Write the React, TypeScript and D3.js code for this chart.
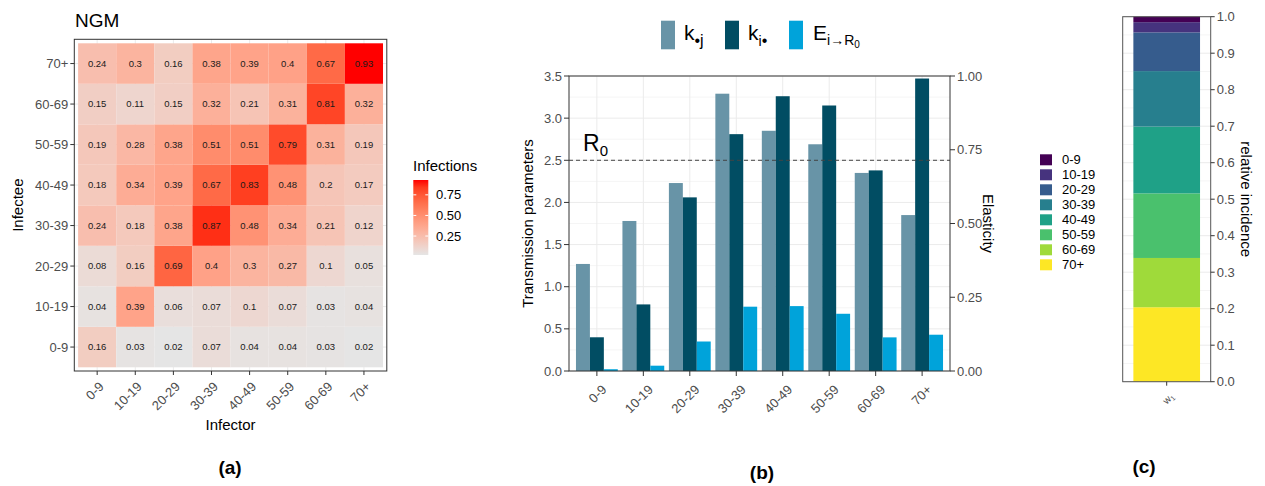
import React from 'react';
import * as d3 from 'd3';

const ageGroups = ['0-9', '10-19', '20-29', '30-39', '40-49', '50-59', '60-69', '70+'];

// NGM rows: infectee (0-9 .. 70+), columns: infector (0-9 .. 70+)
const ngm0_9 = [0.16, 0.03, 0.02, 0.07, 0.04, 0.04, 0.03, 0.02];
const ngm10_19 = [0.04, 0.39, 0.06, 0.07, 0.1, 0.07, 0.03, 0.04];
const ngm20_29 = [0.08, 0.16, 0.69, 0.4, 0.3, 0.27, 0.1, 0.05];
const ngm30_39 = [0.24, 0.18, 0.38, 0.87, 0.48, 0.34, 0.21, 0.12];
const ngm40_49 = [0.18, 0.34, 0.39, 0.67, 0.83, 0.48, 0.2, 0.17];
const ngm50_59 = [0.19, 0.28, 0.38, 0.51, 0.51, 0.79, 0.31, 0.19];
const ngm60_69 = [0.15, 0.11, 0.15, 0.32, 0.21, 0.31, 0.81, 0.32];
const ngm70p = [0.24, 0.3, 0.16, 0.38, 0.39, 0.4, 0.67, 0.93];
const ngmRows = [ngm0_9, ngm10_19, ngm20_29, ngm30_39, ngm40_49, ngm50_59, ngm60_69, ngm70p];
const legendTicksA = [0.25, 0.5, 0.75];

// panel (b)
const kDotJ = [1.27, 1.78, 2.23, 3.29, 2.85, 2.69, 2.35, 1.85];
const kIDot = [0.4, 0.79, 2.06, 2.81, 3.26, 3.15, 2.38, 3.47];
const elasticity = [0.006, 0.018, 0.1, 0.218, 0.22, 0.194, 0.114, 0.123];
const R0 = 2.5;
const ticksB = [0, 0.5, 1, 1.5, 2, 2.5, 3, 3.5];
const ticksE = [0, 0.25, 0.5, 0.75, 1];

// panel (c)
const incidence = [0.015, 0.028, 0.106, 0.152, 0.183, 0.177, 0.135, 0.204];
const viridis8 = ['#440154', '#46337E', '#365C8D', '#277F8E', '#1FA187', '#4AC16D', '#9FDA3A', '#FDE725'];
const ticksC = [0, 0.1, 0.2, 0.3, 0.4, 0.5, 0.6, 0.7, 0.8, 0.9, 1.0];

const FONT = '"Liberation Sans", Arial, Helvetica, sans-serif';
const TICK = '#4D4D4D';
const GRID = '#EBEBEB';
const GRIDMINOR = '#F5F5F5';
const colK1 = '#6894A7';
const colK2 = '#014D63';
const colE = '#00A3DA';

export default function App() {
  // ---------- Panel (a) ----------
  const pA = { l: 74.3, r: 386.8, t: 39.3, b: 371 };
  const xA = d3.scaleBand().domain(ageGroups).range([78.1, 383]);
  const yA = d3.scaleBand().domain(ageGroups).range([367.3, 43.3]);
  const allVals = ngmRows.flat();
  const fillA = d3
    .scaleLinear<string>()
    .domain([d3.min(allVals)!, d3.max(allVals)!])
    .range(['#E5E5E5', '#FF0000'])
    .interpolate(d3.interpolateLab);
  const legA = d3.scaleLinear().domain([d3.min(allVals)!, d3.max(allVals)!]).range([255, 180]);
  const gradStops = d3.range(0, 1.0001, 0.1);

  // ---------- Panel (b) ----------
  const pB = { l: 569, r: 950, t: 76, b: 371 };
  const xB = d3.scaleBand().domain(ageGroups).range([pB.l, pB.r]).paddingInner(0.1).paddingOuter(0.15);
  const series = ['kdotj', 'kidot', 'E'];
  const xInner = d3.scaleBand().domain(series).range([0, xB.bandwidth()]);
  const yB = d3.scaleLinear().domain([0, 3.5]).range([pB.b, pB.t]);
  const yE = d3.scaleLinear().domain([0, 1]).range([pB.b, pB.t]);
  const minorB = d3.range(0.25, 3.5, 0.5);

  // ---------- Panel (c) ----------
  const pC = { l: 1122.7, r: 1210.7, t: 16.7, b: 381.7 };
  const xC = d3.scaleBand().domain(['w1']).range([pC.l, pC.r]).paddingInner(0).paddingOuter(0.16);
  const yC = d3.scaleLinear().domain([0, 1]).range([pC.b, pC.t]);
  const order = d3.range(ageGroups.length).reverse(); // 70+ at bottom
  const cum: { i: number; y0: number; y1: number }[] = [];
  let acc = 0;
  order.forEach((i) => {
    cum.push({ i, y0: acc, y1: acc + incidence[i] });
    acc += incidence[i];
  });
  const minorC = d3.range(0.05, 1, 0.1);

  return (
    <svg
      width={1265}
      height={486}
      style={{ position: 'absolute', left: 0, top: 0, background: '#fff' }}
      fontFamily={FONT}
    >
      <rect x={0} y={0} width={1265} height={486} fill="#fff" />
      {/* ================= Panel (a) ================= */}
      <text x={75} y={26.7} fontSize={19} fill="#000">NGM</text>
      <rect x={pA.l} y={pA.t} width={pA.r - pA.l} height={pA.b - pA.t} fill="#fff" />
      {ageGroups.map((g) => (
        <g key={'ga' + g}>
          <line x1={xA(g)! + xA.bandwidth() / 2} x2={xA(g)! + xA.bandwidth() / 2} y1={pA.t} y2={pA.b} stroke={GRID} />
          <line x1={pA.l} x2={pA.r} y1={yA(g)! + yA.bandwidth() / 2} y2={yA(g)! + yA.bandwidth() / 2} stroke={GRID} />
        </g>
      ))}
      {ngmRows.map((row, ri) =>
        row.map((v, ci) => (
          <g key={`c${ri}-${ci}`}>
            <rect
              x={xA(ageGroups[ci])!}
              y={yA(ageGroups[ri])!}
              width={xA.bandwidth()}
              height={yA.bandwidth()}
              fill={fillA(v)}
            />
            <text
              x={xA(ageGroups[ci])! + xA.bandwidth() / 2}
              y={yA(ageGroups[ri])! + yA.bandwidth() / 2}
              dy="0.35em"
              textAnchor="middle"
              fontSize={9.5}
              fill="#1a1a1a"
            >
              {String(v)}
            </text>
          </g>
        ))
      )}
      <rect x={pA.l} y={pA.t} width={pA.r - pA.l} height={pA.b - pA.t} fill="none" stroke="#333" strokeWidth={1} />
      {ageGroups.map((g) => {
        const cy = yA(g)! + yA.bandwidth() / 2;
        const cx = xA(g)! + xA.bandwidth() / 2;
        return (
          <g key={'ta' + g}>
            <line x1={pA.l - 4} x2={pA.l} y1={cy} y2={cy} stroke="#333" />
            <text x={pA.l - 6} y={cy} dy="0.35em" textAnchor="end" fontSize={13} fill={TICK}>{g}</text>
            <line x1={cx} x2={cx} y1={pA.b} y2={pA.b + 4} stroke="#333" />
            <text
              transform={`translate(${cx + 1},${381}) rotate(-45)`}
              dy="0.7em"
              textAnchor="end"
              fontSize={13}
              fill={TICK}
            >
              {g}
            </text>
          </g>
        );
      })}
      <text x={(pA.l + pA.r) / 2} y={430} textAnchor="middle" fontSize={15} fill="#000">Infector</text>
      <text transform={`translate(${23},${(pA.t + pA.b) / 2}) rotate(-90)`} textAnchor="middle" fontSize={15} fill="#000">Infectee</text>
      {/* legend (a) */}
      <text x={413} y={171} fontSize={15} fill="#000">Infections</text>
      <defs>
        <linearGradient id="gradA" x1="0" y1="1" x2="0" y2="0">
          {gradStops.map((t) => (
            <stop key={t} offset={t} stopColor={fillA(legA.domain()[0] + t * (legA.domain()[1] - legA.domain()[0]))} />
          ))}
        </linearGradient>
      </defs>
      <rect x={413.3} y={180} width={15} height={75} fill="url(#gradA)" />
      {legendTicksA.map((t) => (
        <g key={'la' + t}>
          <line x1={413.3} x2={416.3} y1={legA(t)} y2={legA(t)} stroke="#fff" />
          <line x1={425.3} x2={428.3} y1={legA(t)} y2={legA(t)} stroke="#fff" />
          <text x={436} y={legA(t)} dy="0.35em" fontSize={13} fill="#000">{t.toFixed(2)}</text>
        </g>
      ))}
      <text x={230} y={474} textAnchor="middle" fontSize={19} fontWeight="bold" fill="#000">(a)</text>

      {/* ================= Panel (b) ================= */}
      <rect x={pB.l} y={pB.t} width={pB.r - pB.l} height={pB.b - pB.t} fill="#fff" />
      {minorB.map((t) => (
        <line key={'mb' + t} x1={pB.l} x2={pB.r} y1={yB(t)} y2={yB(t)} stroke={GRIDMINOR} />
      ))}
      {ticksB.map((t) => (
        <line key={'gb' + t} x1={pB.l} x2={pB.r} y1={yB(t)} y2={yB(t)} stroke={GRID} />
      ))}
      {ageGroups.map((g) => (
        <line key={'vb' + g} x1={xB(g)! + xB.bandwidth() / 2} x2={xB(g)! + xB.bandwidth() / 2} y1={pB.t} y2={pB.b} stroke={GRID} />
      ))}
      {ageGroups.map((g, i) => (
        <g key={'bars' + g}>
          <rect x={xB(g)! + xInner('kdotj')!} y={yB(kDotJ[i])} width={xInner.bandwidth()} height={yB(0) - yB(kDotJ[i])} fill={colK1} />
          <rect x={xB(g)! + xInner('kidot')!} y={yB(kIDot[i])} width={xInner.bandwidth()} height={yB(0) - yB(kIDot[i])} fill={colK2} />
          <rect x={xB(g)! + xInner('E')!} y={yE(elasticity[i])} width={xInner.bandwidth()} height={yE(0) - yE(elasticity[i])} fill={colE} />
        </g>
      ))}
      <line x1={pB.l} x2={pB.r} y1={yB(R0)} y2={yB(R0)} stroke="#444" strokeWidth={1} strokeDasharray="4,3" />
      <text x={583} y={151} fontSize={23} fill="#000">
        R<tspan dy={5} fontSize={15}>0</tspan>
      </text>
      <rect x={pB.l} y={pB.t} width={pB.r - pB.l} height={pB.b - pB.t} fill="none" stroke="#333" strokeWidth={1} />
      {ticksB.map((t) => (
        <g key={'tb' + t}>
          <line x1={pB.l - 5} x2={pB.l} y1={yB(t)} y2={yB(t)} stroke="#333" />
          <text x={pB.l - 7} y={yB(t)} dy="0.35em" textAnchor="end" fontSize={13} fill={TICK}>{t.toFixed(1)}</text>
        </g>
      ))}
      {ticksE.map((t) => (
        <g key={'te' + t}>
          <line x1={pB.r} x2={pB.r + 5} y1={yE(t)} y2={yE(t)} stroke="#333" />
          <text x={pB.r + 7} y={yE(t)} dy="0.35em" textAnchor="start" fontSize={13} fill={TICK}>{t.toFixed(2)}</text>
        </g>
      ))}
      {ageGroups.map((g) => {
        const cx = xB(g)! + xB.bandwidth() / 2;
        return (
          <g key={'xb' + g}>
            <line x1={cx} x2={cx} y1={pB.b} y2={pB.b + 5} stroke="#333" />
            <text transform={`translate(${cx + 4},${384}) rotate(-45)`} dy="0.7em" textAnchor="end" fontSize={13} fill={TICK}>{g}</text>
          </g>
        );
      })}
      <text transform={`translate(${533},${(pB.t + pB.b) / 2}) rotate(-90)`} textAnchor="middle" fontSize={15} fill="#000">Transmission parameters</text>
      <text transform={`translate(${983},${(pB.t + pB.b) / 2}) rotate(90)`} textAnchor="middle" fontSize={15} fill="#000">Elasticity</text>
      {/* legend (b) */}
      <rect x={661} y={20.7} width={14} height={28.6} fill={colK1} />
      <text x={684} y={40} fontSize={21} fill="#000">
        k<tspan dy={6} fontSize={16}>•j</tspan>
      </text>
      <rect x={725} y={20.7} width={14} height={28.6} fill={colK2} />
      <text x={748} y={40} fontSize={21} fill="#000">
        k<tspan dy={6} fontSize={14}>i</tspan><tspan fontSize={16}>•</tspan>
      </text>
      <rect x={789} y={20.7} width={14} height={28.6} fill={colE} />
      <text x={813} y={40} fontSize={21} fill="#000">
        E<tspan dy={5} fontSize={14}>i→R</tspan><tspan dy={3} fontSize={10}>0</tspan>
      </text>
      <text x={762} y={479} textAnchor="middle" fontSize={19} fontWeight="bold" fill="#000">(b)</text>

      {/* ================= Panel (c) ================= */}
      <rect x={pC.l} y={pC.t} width={pC.r - pC.l} height={pC.b - pC.t} fill="#fff" />
      {minorC.map((t) => (
        <line key={'mc' + t} x1={pC.l} x2={pC.r} y1={yC(t)} y2={yC(t)} stroke={GRIDMINOR} />
      ))}
      {ticksC.map((t) => (
        <line key={'gc' + t} x1={pC.l} x2={pC.r} y1={yC(t)} y2={yC(t)} stroke={GRID} />
      ))}
      {cum.map((c) => (
        <rect
          key={'st' + c.i}
          x={xC('w1')!}
          y={yC(c.y1)}
          width={xC.bandwidth()}
          height={yC(c.y0) - yC(c.y1)}
          fill={viridis8[c.i]}
        />
      ))}
      <rect x={pC.l} y={pC.t} width={pC.r - pC.l} height={pC.b - pC.t} fill="none" stroke="#555" strokeWidth={1} />
      {ticksC.map((t) => (
        <g key={'tc' + t}>
          <line x1={pC.r} x2={pC.r + 4} y1={yC(t)} y2={yC(t)} stroke="#333" />
          <text x={pC.r + 6} y={yC(t)} dy="0.35em" fontSize={13} fill={TICK}>{t.toFixed(1)}</text>
        </g>
      ))}
      <line x1={xC('w1')! + xC.bandwidth() / 2} x2={xC('w1')! + xC.bandwidth() / 2} y1={pC.b} y2={pC.b + 4} stroke="#333" />
      <text transform={`translate(${xC('w1')! + xC.bandwidth() / 2 + 3},${392}) rotate(-45)`} dy="0.7em" textAnchor="end" fontSize={10} fill={TICK}>
        w<tspan dy={2} fontSize={7}>1</tspan>
      </text>
      <text transform={`translate(${1241},${(pC.t + pC.b) / 2}) rotate(90)`} textAnchor="middle" fontSize={15} fill="#000">relative incidence</text>
      {/* legend (c) */}
      {ageGroups.map((g, i) => (
        <g key={'lc' + g}>
          <rect x={1040} y={154.3 + i * 15} width={12} height={11} fill={viridis8[i]} />
          <text x={1062} y={154.3 + i * 15 + 5.5} dy="0.35em" fontSize={13} fill="#000">{g}</text>
        </g>
      ))}
      <text x={1144} y={473} textAnchor="middle" fontSize={19} fontWeight="bold" fill="#000">(c)</text>
    </svg>
  );
}
